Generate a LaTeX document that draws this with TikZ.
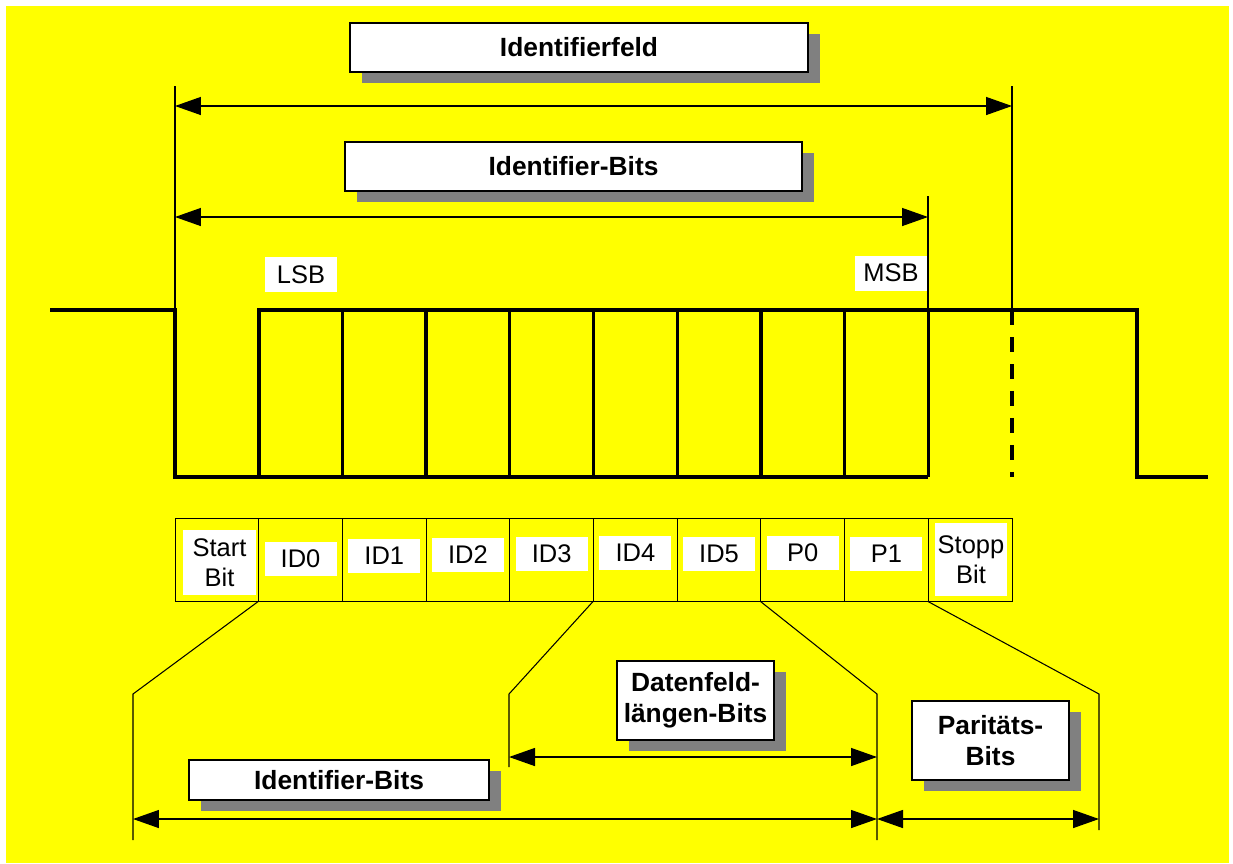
\documentclass[tikz,border=0pt]{standalone}
\usepackage{fontspec}
\setmainfont{Liberation Sans}
\usetikzlibrary{arrows.meta}
\usetikzlibrary{shadows}
\definecolor{bgyellow}{RGB}{255,255,0}
\definecolor{shadowgray}{RGB}{128,128,128}

\begin{document}
\begin{tikzpicture}[x=0.02cm,y=-0.02cm,
  >={Triangle[length=0.52cm,width=0.36cm]},
  headbox/.style={draw,line width=0.8pt,fill=white,inner sep=0pt,align=center,
    font=\fontsize{15}{17.6}\selectfont\bfseries,
    general shadow={fill=shadowgray,shadow xshift=0.24cm,shadow yshift=-0.22cm}},
  bitlabel/.style={fill=white,inner sep=0pt,align=center,minimum width=1.44cm,
    minimum height=0.68cm,font=\fontsize{14.5}{17}\selectfont},
  cell/.style={draw,line width=0.5pt,minimum width=1.674cm,minimum height=1.66cm,inner sep=0pt},
  guide/.style={line width=0.6pt},
  dim/.style={line width=0.8pt,<->},
  signal/.style={line width=1.9pt}]
\useasboundingbox (0,0) rectangle (1233,863);
\fill[white] (0,0) rectangle (1233,863);
\fill[bgyellow] (6,6) rectangle (1229,863);
% bit cells
\foreach \i in {0,...,9}
  \node[cell] (c\i) at ({216.85+83.7*\i},559.5) {};
% signal
\draw[signal] (50,310) -- (175,310) -- (175,477) -- (928,477);
\draw[signal] (259,477) -- (259,310) -- (1137,310) -- (1137,477) -- (1208,477);
\foreach \i in {2,...,9}
  \draw[signal] ({175+83.7*\i},310) -- ++(0,167);
\draw[signal,dash pattern=on 0.3cm off 0.24cm] (1012,310) -- (1012,477);
% upper guides and arrows
\draw[guide] (175,86) -- (175,310);
\draw[guide] (1012,86) -- (1012,310);
\draw[guide] (928,196) -- (928,310);
\coordinate (fL) at (175,106);
\coordinate (fR) at (1012,106);
\coordinate (bL) at (175,217);
\coordinate (bR) at (928,217);
\draw[dim] (fL) -- (fR);
\draw[dim] (bL) -- (bR);
% expansion lines
\coordinate (e1) at (133,694);  \coordinate (e1b) at (133,840);
\coordinate (e2) at (509,694);  \coordinate (e2b) at (509,767);
\coordinate (e3) at (877,694);  \coordinate (e3b) at (877,840);
\coordinate (e4) at (1099,694); \coordinate (e4b) at (1099,830);
\draw[guide] (c1.south west) -- (e1) -- (e1b);
\draw[guide] (c5.south west) -- (e2) -- (e2b);
\draw[guide] (c7.south west) -- (e3) -- (e3b);
\draw[guide] (c9.south west) -- (e4) -- (e4b);
\coordinate (dL) at (509,757);
\coordinate (dR) at (877,757);
\coordinate (iL) at (133,819);
\coordinate (iR) at (877,819);
\coordinate (pR) at (1099,819);
\draw[dim] (dL) -- (dR);
\draw[dim] (iL) -- (iR);
\draw[dim] (iR) -- (pR);
% labels
\node[bitlabel,minimum width=1.46cm,minimum height=1.3cm] (start) at (219.5,562.5) {Start\\Bit};
\foreach \i/\t/\y in {1/ID0/559,2/ID1/556,3/ID2/555,4/ID3/554,5/ID4/553,6/ID5/554,7/P0/553,8/P1/554}
  \node[bitlabel] (l\i) at ({216.85+83.7*\i},\y) {\t};
\node[bitlabel,minimum height=1.46cm] (stopp) at (971,559.5) {Stopp\\Bit};
\node[bitlabel,minimum height=0.7cm] (lsb) at (301,274.5) {LSB};
\node[bitlabel,minimum height=0.7cm] (msb) at (891,273) {MSB};
\node[headbox,minimum width=9.16cm,minimum height=0.98cm] (feld) at (579,47.5) {Identifierfeld};
\node[headbox,minimum width=9.14cm,minimum height=0.98cm] (idbits) at (573.5,166.5) {Identifier-Bits};
\node[headbox,minimum width=3.14cm,minimum height=1.58cm] (dlc) at (695.5,700.5) {Datenfeld-\\längen-Bits};
\node[headbox,minimum width=3.14cm,minimum height=1.58cm] (par) at (990.5,740.5) {Paritäts-\\Bits};
\node[headbox,minimum width=6cm,minimum height=0.8cm] (idbits2) at (339,780) {Identifier-Bits};
\end{tikzpicture}
\end{document}
